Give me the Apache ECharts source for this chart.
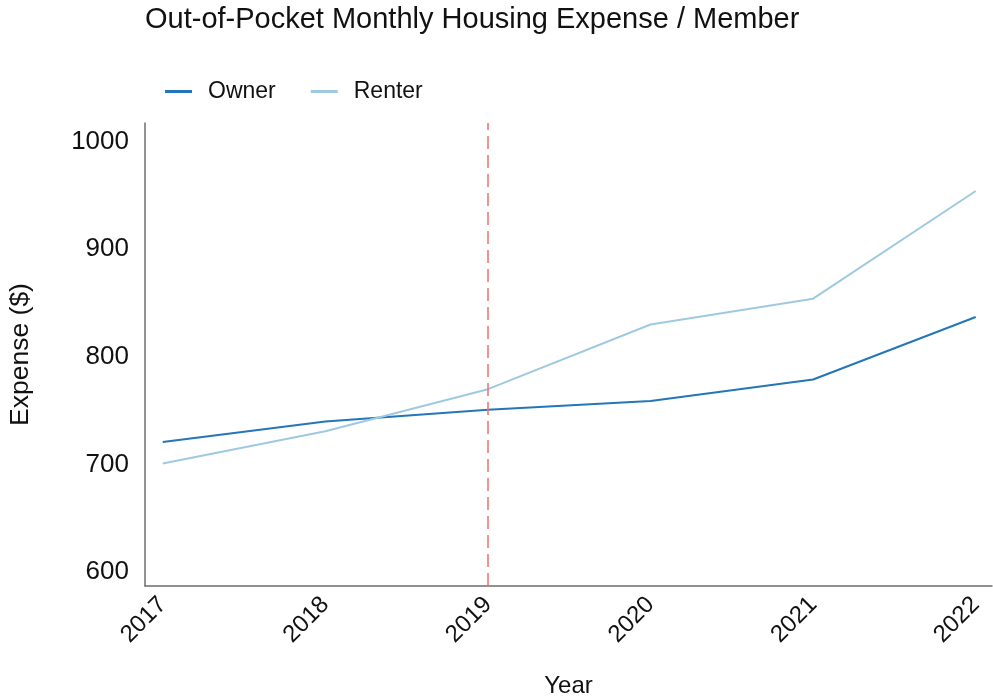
<!DOCTYPE html>
<html>
<head>
<meta charset="utf-8">
<title>Out-of-Pocket Monthly Housing Expense / Member</title>
<script src="https://cdn.jsdelivr.net/npm/echarts@6/dist/echarts.min.js"></script>
<style>
    html, body { margin: 0; padding: 0; background: #fff; }
    #expense-graph { width: 993px; height: 698px; }
</style>
</head>
<body>
<div id="expense-graph"></div>
<script>
// data
var years = [2017, 2018, 2019, 2020, 2021, 2022];
var ownerExpense = [721, 740, 751, 759, 779, 837];
var renterExpense = [701, 731, 770, 830, 854, 954];
var yTicks = [600, 700, 800, 900, 1000];
var markYear = 2019;

var fontName = 'Liberation Sans';

function pairs(xs, ys) {
    var out = [];
    for (var i = 0; i < xs.length; i++) {
        out.push([xs[i], ys[i]]);
    }
    return out;
}

var expenseChart = echarts.init(document.getElementById('expense-graph'));

var option = {
    animation: false,
    textStyle: { fontFamily: fontName },
    title: {
        text: 'Out-of-Pocket Monthly Housing Expense / Member',
        left: 140,
        top: 0,
        textStyle: { fontFamily: fontName, fontSize: 29, fontWeight: 'normal', color: '#111' }
    },
    legend: {
        left: 165,
        top: 80,
        padding: 0,
        itemWidth: 27,
        itemHeight: 3,
        itemGap: 35,
        icon: 'rect',
        textStyle: { fontFamily: fontName, fontSize: 23, color: '#111', padding: [0, 0, 0, 11] },
        data: ['Owner', 'Renter']
    },
    grid: {
        left: 145,
        right: 1,
        top: 123,
        bottom: 112,
        outerBoundsMode: 'none'
    },
    xAxis: {
        type: 'value',
        min: 2016.891,
        max: 2022.1,
        name: 'Year',
        nameLocation: 'middle',
        nameGap: 88,
        nameTextStyle: { fontFamily: fontName, fontSize: 24, color: '#111' },
        axisLine: { lineStyle: { color: '#6e6e6e', width: 1.5 } },
        axisTick: { show: false },
        splitLine: { show: false },
        axisLabel: {
            customValues: years,
            rotate: 45,
            margin: 15,
            fontSize: 24,
            color: '#111',
            fontFamily: fontName,
            formatter: function (v) { return String(v); }
        }
    },
    yAxis: {
        type: 'value',
        min: 587.3,
        max: 1017.1,
        name: 'Expense ($)',
        nameLocation: 'middle',
        nameGap: 111,
        nameRotate: 90,
        nameTextStyle: { fontFamily: fontName, fontSize: 26.5, color: '#111' },
        axisLine: { show: true, lineStyle: { color: '#6e6e6e', width: 1.5 } },
        axisTick: { show: false },
        splitLine: { show: false },
        axisLabel: {
            customValues: yTicks,
            margin: 16,
            fontSize: 26,
            color: '#111',
            fontFamily: fontName,
            formatter: function (v) { return String(v); }
        }
    },
    series: [{
        name: 'Owner',
        type: 'line',
        data: pairs(years, ownerExpense),
        showSymbol: false,
        color: '#2476b6',
        lineStyle: { width: 2, color: '#2476b6' },
        markLine: {
            silent: true,
            symbol: 'none',
            label: { show: false },
            lineStyle: { color: '#f26d6d', width: 1.5, type: [13, 6] },
            data: [{ xAxis: markYear }]
        }
    }, {
        name: 'Renter',
        type: 'line',
        data: pairs(years, renterExpense),
        showSymbol: false,
        color: '#9ecae1',
        lineStyle: { width: 2, color: '#9ecae1' }
    }]
};

expenseChart.setOption(option);
</script>
</body>
</html>
